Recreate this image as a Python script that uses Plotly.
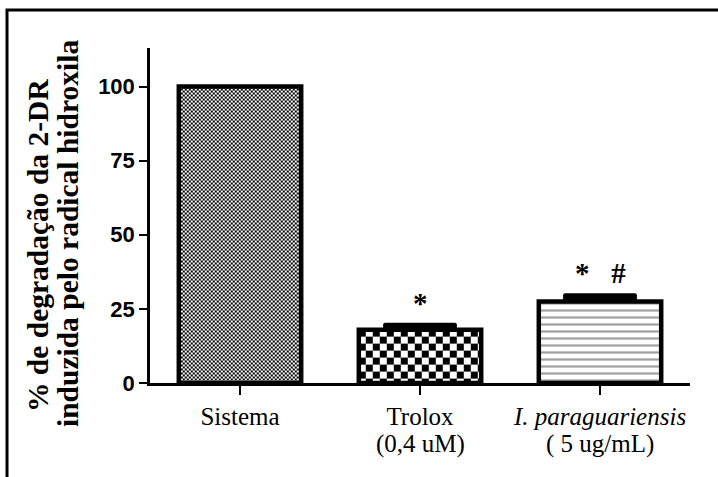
import base64
import plotly.graph_objects as go

# ---------------- data ----------------
categories = ["Sistema", "Trolox<br>(0,4 uM)", "<i>I. paraguariensis</i><br>( 5 ug/mL)"]
values = [100, 18, 27.5]
errors = [0, 2.3, 2.8]
sig_labels = ["", "*", "*\u00a0\u00a0\u00a0#"]
y_ticks = [0, 25, 50, 75, 100]
y_title_lines = ["% de degradação da 2-DR", "induzida pelo radical hidroxila"]
caption = "Figura 4 – Capacidade de captação do radical hidroxila (OH•)"

# ---------------- style ----------------
W, H = 718, 477
ML, MR, MT, MB = 150, 28, 48, 94
PW, PH = W - ML - MR, H - MT - MB
YMAX = 113
BAR_W = 0.68
ERR_W = 0.41
fills = [("checker", 2), ("checker", 7), ("stripes", 7)]


def px_x(px):
    return (px - ML) / PW


def px_y(py):
    return (H - MB - py) / PH


def checker_uri(wpx, hpx, cell):
    t = 2 * cell
    svg = (
        f'<svg xmlns="http://www.w3.org/2000/svg" width="{wpx:.1f}" height="{hpx:.1f}" '
        f'viewBox="0 0 {wpx:.1f} {hpx:.1f}" preserveAspectRatio="none">'
        f'<defs><pattern id="p" width="{t}" height="{t}" patternUnits="userSpaceOnUse">'
        f'<rect width="{t}" height="{t}" fill="white"/>'
        f'<rect width="{cell}" height="{cell}" fill="black"/>'
        f'<rect x="{cell}" y="{cell}" width="{cell}" height="{cell}" fill="black"/>'
        f'</pattern></defs><rect width="100%" height="100%" fill="url(#p)"/></svg>'
    )
    return "data:image/svg+xml;base64," + base64.b64encode(svg.encode()).decode()


xs = list(range(len(categories)))
px_per_x = PW / (len(categories))
px_per_y = PH / YMAX

images = []
colors = []
shapes_pat = []
for i, (kind, cell) in enumerate(fills):
    if kind == "checker":
        images.append(dict(
            source=checker_uri(BAR_W * px_per_x, values[i] * px_per_y, cell),
            xref="x", yref="y", x=xs[i] - BAR_W / 2, y=values[i],
            sizex=BAR_W, sizey=values[i], xanchor="left", yanchor="top",
            sizing="stretch", layer="below"))
        colors.append("rgba(0,0,0,0)")
        shapes_pat.append("")
    else:
        colors.append("white")
        shapes_pat.append("-")

fig = go.Figure()
fig.add_trace(go.Bar(
    x=xs, y=values, width=BAR_W,
    marker=dict(color=colors, line=dict(color="black", width=4.5),
                pattern=dict(shape=shapes_pat, fgcolor="black", bgcolor="white",
                             size=7, solidity=0.32, fillmode="overlay")),
    hoverinfo="skip"))
fig.add_trace(go.Bar(
    x=xs, y=errors, base=values, width=ERR_W,
    marker=dict(color="black", line=dict(width=0), cornerradius=2),
    hoverinfo="skip"))

annotations = []
for i, s in enumerate(sig_labels):
    if s:
        annotations.append(dict(
            x=xs[i], y=values[i] + errors[i], xref="x", yref="y",
            text=s, showarrow=False, yanchor="bottom", yshift=2,
            font=dict(family="Liberation Serif", size=29, color="black", weight="bold")))

# category labels: first line as tick text, second line as annotation below
first_lines = [c.split("<br>")[0] for c in categories]
second_lines = [c.split("<br>")[1] if "<br>" in c else "" for c in categories]
for i, s in enumerate(second_lines):
    if s:
        annotations.append(dict(
            x=xs[i], y=px_y(444), xref="x", yref="paper", text=s,
            showarrow=False, xanchor="center", yanchor="middle",
            font=dict(family="Liberation Serif", size=25, color="black")))

for j, (line, cx, cy) in enumerate(zip(y_title_lines, [38, 68], [246, 234])):
    annotations.append(dict(
        x=px_x(cx), y=px_y(cy), xref="paper", yref="paper", text=line,
        textangle=-90, showarrow=False, xanchor="center", yanchor="middle",
        font=dict(family="Liberation Serif", size=29.5, color="black", weight="bold")))

annotations.append(dict(
    x=px_x(425), y=px_y(-2), xref="paper", yref="paper", text=caption,
    showarrow=False, xanchor="right", yanchor="bottom",
    font=dict(family="Liberation Serif", size=18, color="#666")))

fig.update_layout(
    width=W, height=H,
    margin=dict(l=ML, r=MR, t=MT, b=MB, pad=0),
    paper_bgcolor="white", plot_bgcolor="white",
    barmode="overlay", showlegend=False,
    images=images, annotations=annotations,
    shapes=[dict(type="rect", xref="paper", yref="paper",
                 x0=px_x(7), x1=px_x(760), y0=px_y(520), y1=px_y(10),
                 line=dict(color="black", width=3), fillcolor="rgba(0,0,0,0)")],
    xaxis=dict(range=[-0.5, 2.5], tickvals=xs, ticktext=first_lines,
               showline=True, linecolor="black", linewidth=2.5,
               ticks="outside", ticklen=9, tickwidth=2, tickcolor="black",
               showgrid=False, zeroline=False,
               tickfont=dict(family="Liberation Serif", size=25, color="black")),
    yaxis=dict(range=[0, YMAX], tickvals=y_ticks,
               showline=True, linecolor="black", linewidth=2.5,
               ticks="outside", ticklen=8, tickwidth=2, tickcolor="black",
               showgrid=False, zeroline=False,
               tickfont=dict(family="Liberation Sans", size=22, color="black", weight="bold")),
)

fig.write_html("out.html")
